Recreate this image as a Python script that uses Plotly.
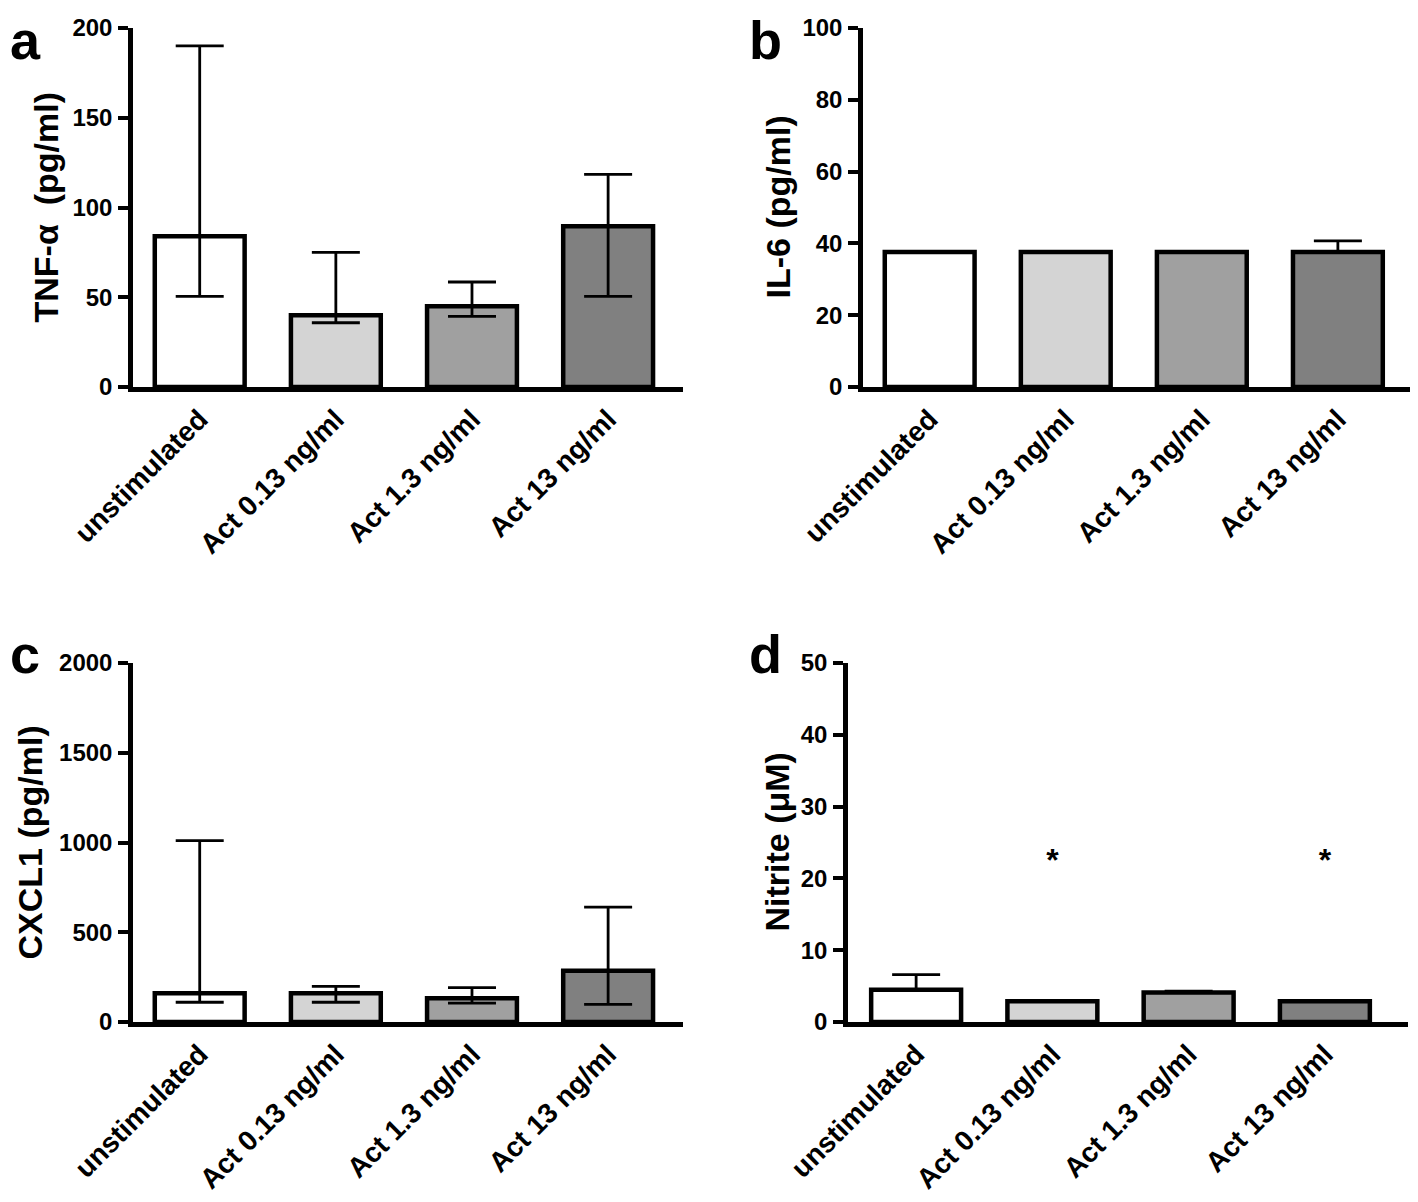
import plotly.graph_objects as go

categories = ["unstimulated", "Act 0.13 ng/ml", "Act 1.3 ng/ml", "Act 13 ng/ml"]
bar_colors = ["#ffffff", "#d4d4d4", "#a0a0a0", "#808080"]

# Panel a: TNF-alpha
tnf_val = [84, 40, 45, 89.5]
tnf_hi = [190, 75, 58.5, 118.5]
tnf_lo = [50.5, 35.8, 39.3, 50.5]

# Panel b: IL-6
il6_val = [37.6, 37.6, 37.6, 37.6]
il6_hi = [37.6, 37.6, 37.6, 40.7]
il6_lo = [37.6, 37.6, 37.6, 37.6]

# Panel c: CXCL1
cxcl_val = [160, 160, 133, 285]
cxcl_hi = [1010, 198, 192, 640]
cxcl_lo = [110, 110, 105, 98]

# Panel d: Nitrite
nit_val = [4.5, 2.9, 4.1, 2.9]
nit_hi = [6.6, 2.9, 4.3, 2.9]
nit_lo = [4.5, 2.9, 4.1, 2.9]
nit_sig = ["", "*", "", "*"]
sig_y = 22.2

# page-pixel layout (browser body has an 8px margin)
OFF = 8
panels = [
    dict(val=tnf_val, hi=tnf_hi, lo=tnf_lo, ymax=200, dtick=50, title="TNF-\u03b1  (pg/ml)", letter="a",
         xd=[133, 683], yd=[28, 387], xr=[-0.49, 3.55], tx=45, lx=0, ly=8),
    dict(val=il6_val, hi=il6_hi, lo=il6_lo, ymax=100, dtick=20, title="IL-6 (pg/ml)", letter="b",
         xd=[863, 1410], yd=[28, 387], xr=[-0.49, 3.53], tx=777, lx=747, ly=8),
    dict(val=cxcl_val, hi=cxcl_hi, lo=cxcl_lo, ymax=2000, dtick=500, title="CXCL1 (pg/ml)", letter="c",
         xd=[133, 683], yd=[663, 1022], xr=[-0.49, 3.55], tx=29, lx=0, ly=622),
    dict(val=nit_val, hi=nit_hi, lo=nit_lo, ymax=50, dtick=10, title="Nitrite (\u03bcM)", letter="d",
         xd=[848, 1408], yd=[663, 1022], xr=[-0.5, 3.61], tx=776, lx=747, ly=622),
]

W, H = 1418 - 2 * OFF, 1202 - 2 * OFF
FONT = "Liberation Sans, Arial, sans-serif"


def px(x):
    return min(max((x - OFF) / W, 0.0), 1.0)


def py(y):
    return min(max(1 - (y - OFF) / H, 0.0), 1.0)


fig = go.Figure()
layout = dict(
    width=W, height=H, margin=dict(l=0, r=0, t=0, b=0, autoexpand=False),
    paper_bgcolor="white", plot_bgcolor="white", showlegend=False,
    font=dict(family=FONT, color="black"),
    annotations=[],
)

for i, p in enumerate(panels, start=1):
    xa = "x" if i == 1 else f"x{i}"
    ya = "y" if i == 1 else f"y{i}"
    err_plus = [h - v for h, v in zip(p["hi"], p["val"])]
    err_minus = [v - l for v, l in zip(p["val"], p["lo"])]
    fig.add_trace(go.Bar(
        x=categories, y=p["val"], xaxis=xa, yaxis=ya, width=0.66,
        marker=dict(color=bar_colors, line=dict(color="black", width=4.5)),
        error_y=dict(type="data", symmetric=False, array=err_plus, arrayminus=err_minus,
                     color="black", thickness=2.8, width=24),
    ))
    layout["xaxis" if i == 1 else f"xaxis{i}"] = dict(
        domain=[px(p["xd"][0]), px(p["xd"][1])], anchor=ya, range=p["xr"],
        showline=True, linewidth=4.5, linecolor="black",
        ticks="", tickangle=-45, showgrid=False, zeroline=False, automargin=False,
        tickfont=dict(family=FONT, size=28, color="black", weight="bold"),
        ticklabelstandoff=0,
    )
    layout["yaxis" if i == 1 else f"yaxis{i}"] = dict(
        domain=[py(p["yd"][1]), py(p["yd"][0])], anchor=xa, range=[0, p["ymax"]], dtick=p["dtick"],
        showline=True, linewidth=4.5,
        linecolor="black", ticks="outside", ticklen=10, tickwidth=4, tickcolor="black",
        showgrid=False, zeroline=False, automargin=False,
        tickfont=dict(family=FONT, size=24, color="black", weight="bold"),
        ticklabelstandoff=1,
    )
    layout["annotations"].append(dict(
        text=f"<b>{p['title']}</b>", x=px(p["tx"]), y=py((p["yd"][0] + p["yd"][1]) / 2),
        xref="paper", yref="paper", textangle=-90, showarrow=False,
        font=dict(size=34, family=FONT), xanchor="center", yanchor="middle",
    ))
    layout["annotations"].append(dict(
        text=f"<b>{p['letter']}</b>", x=px(p["lx"]), y=py(p["ly"]),
        xref="paper", yref="paper",
        showarrow=False, font=dict(size=54, family=FONT),
        xanchor="left", yanchor="top",
    ))

fig.add_trace(go.Scatter(
    x=categories, y=[sig_y] * 4, text=nit_sig, mode="text", xaxis="x4", yaxis="y4",
    textfont=dict(size=32, family=FONT, color="black", weight="bold"),
))

fig.update_layout(**layout)
fig.write_html("out.html")
